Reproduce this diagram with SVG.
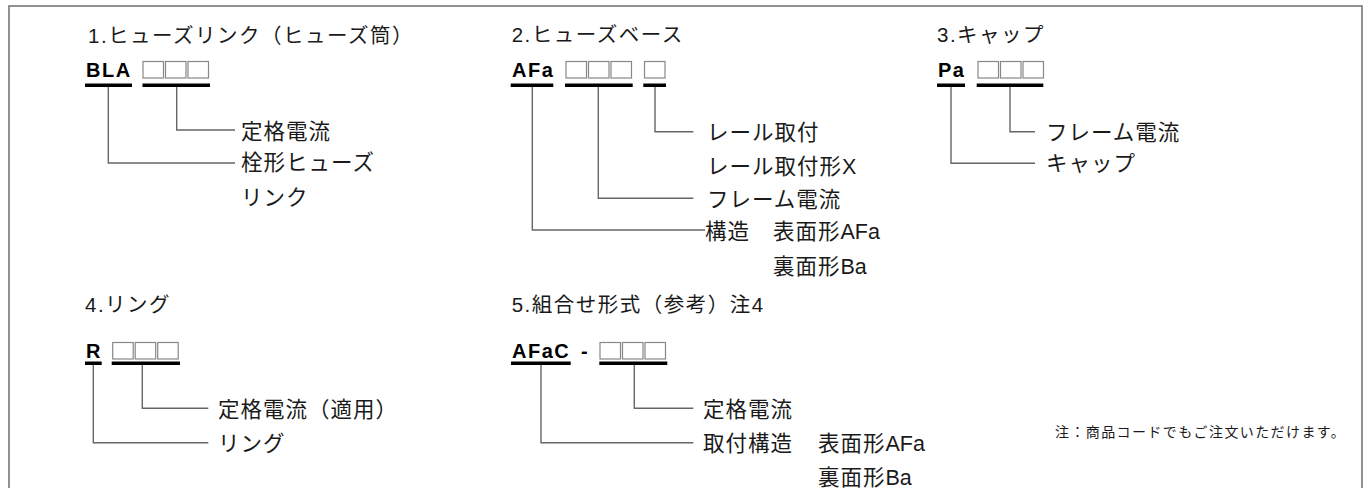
<svg xmlns="http://www.w3.org/2000/svg" width="1363" height="488" viewBox="0 0 1363 488">
<style>
.t{font-family:"Liberation Sans","Noto Sans CJK JP",sans-serif;font-size:20.5px;letter-spacing:1.5px;fill:#1a1a1a}
.l{font-family:"Liberation Sans","Noto Sans CJK JP",sans-serif;font-size:21.5px;letter-spacing:1px;fill:#1a1a1a}
.a{letter-spacing:0}
.c{font-family:"Liberation Sans",Arial,sans-serif;font-size:20px;font-weight:bold;letter-spacing:1.5px;fill:#000}
.n{font-family:"Liberation Sans","Noto Sans CJK JP",sans-serif;font-size:14px;letter-spacing:1.4px;fill:#1a1a1a}
.u{fill:#000}
.b{fill:none;stroke:#888;stroke-width:1.2}
.k{fill:none;stroke:#666;stroke-width:1.4}
</style>
<rect x="9" y="6" width="1353" height="500" fill="none" stroke="#777" stroke-width="1.6"/>

<g id="section1">
<text class="t" x="88" y="42.5">1.ヒューズリンク（ヒューズ筒）</text>
<g id="s1-code-BLA"><text class="c" x="86" y="77">BLA</text><rect class="u" x="85" y="83.5" width="47" height="3.5"/></g>
<g id="s1-code-boxes"><rect class="b" x="143" y="61.5" width="20.5" height="16.5"/><rect class="b" x="165.5" y="61.5" width="20.5" height="16.5"/><rect class="b" x="188" y="61.5" width="20.5" height="16.5"/><rect class="u" x="142.5" y="83.5" width="67.5" height="3.5"/></g>
<g id="s1-label-rating"><text class="l" x="241" y="138.5">定格電流</text></g>
<g id="s1-label-type"><text class="l" x="241" y="170">栓形ヒューズ</text><text class="l" x="241" y="205">リンク</text></g>
</g>

<g id="section2">
<text class="t" x="511.7" y="42">2.ヒューズベース</text>
<g id="s2-code-AFa"><text class="c" x="512" y="77">AFa</text><rect class="u" x="510.7" y="83.5" width="42.6" height="3.5"/></g>
<g id="s2-code-boxes"><rect class="b" x="566" y="61.5" width="20.5" height="16.5"/><rect class="b" x="588.5" y="61.5" width="20.5" height="16.5"/><rect class="b" x="611" y="61.5" width="20.5" height="16.5"/><rect class="u" x="565" y="83.5" width="67.7" height="3.5"/></g>
<g id="s2-code-box"><rect class="b" x="644.5" y="61.5" width="20.5" height="16.5"/><rect class="u" x="643.3" y="83.5" width="22.7" height="3.5"/></g>
<g id="s2-label-rail"><text class="l" x="707" y="139.5">レール取付</text><text class="l" x="707" y="174">レール取付形<tspan class="a">X</tspan></text></g>
<g id="s2-label-frame"><text class="l" x="707" y="206.5">フレーム電流</text></g>
<g id="s2-label-struct"><text class="l" x="705" y="238.5">構造</text><text class="l" x="773" y="238.5">表面形<tspan class="a">AFa</tspan></text><text class="l" x="773" y="274">裏面形<tspan class="a">Ba</tspan></text></g>
</g>

<g id="section3">
<text class="t" x="937" y="42">3.キャップ</text>
<g id="s3-code-Pa"><text class="c" x="938" y="77">Pa</text><rect class="u" x="937" y="83.5" width="28" height="3.5"/></g>
<g id="s3-code-boxes"><rect class="b" x="978" y="61.5" width="20.5" height="16.5"/><rect class="b" x="1000.5" y="61.5" width="20.5" height="16.5"/><rect class="b" x="1023" y="61.5" width="20.5" height="16.5"/><rect class="u" x="976.7" y="83.5" width="66.6" height="3.5"/></g>
<g id="s3-label-frame"><text class="l" x="1046" y="139.5">フレーム電流</text></g>
<g id="s3-label-cap"><text class="l" x="1046" y="171">キャップ</text></g>
</g>

<g id="section4">
<text class="t" x="85" y="311.5">4.リング</text>
<g id="s4-code-R"><text class="c" x="86" y="358">R</text><rect class="u" x="85" y="361.5" width="16.7" height="3.5"/></g>
<g id="s4-code-boxes"><rect class="b" x="112.7" y="342.5" width="20.5" height="16.5"/><rect class="b" x="135.2" y="342.5" width="20.5" height="16.5"/><rect class="b" x="157.7" y="342.5" width="20.5" height="16.5"/><rect class="u" x="111.7" y="361.5" width="68.3" height="3.5"/></g>
<g id="s4-label-rating"><text class="l" x="218" y="416.5">定格電流（適用）</text></g>
<g id="s4-label-ring"><text class="l" x="218" y="450.5">リング</text></g>
</g>

<g id="section5">
<text class="t" x="511.7" y="312">5.組合せ形式（参考）注4</text>
<g id="s5-code-AFaC"><text class="c" x="512" y="358">AFaC</text><rect class="u" x="511" y="361.5" width="59.7" height="3.5"/></g>
<text class="c" x="581" y="358">-</text>
<g id="s5-code-boxes"><rect class="b" x="600" y="342.5" width="20.5" height="16.5"/><rect class="b" x="622.5" y="342.5" width="20.5" height="16.5"/><rect class="b" x="645" y="342.5" width="20.5" height="16.5"/><rect class="u" x="599.3" y="361.5" width="68" height="3.5"/></g>
<g id="s5-label-rating"><text class="l" x="703" y="416.5">定格電流</text></g>
<g id="s5-label-struct"><text class="l" x="703" y="450.5">取付構造</text><text class="l" x="818" y="450.5">表面形<tspan class="a">AFa</tspan></text><text class="l" x="818" y="484.5">裏面形<tspan class="a">Ba</tspan></text></g>
</g>

<g id="note"><text class="n" x="1055" y="437">注：商品コードでもご注文いただけます。</text></g>

<g id="connectors">
<path class="k" d="M176.7,87 V130 H235"/>
<path class="k" d="M108.3,87 V163 H235"/>
<path class="k" d="M655,87 V131.7 H693.3"/>
<path class="k" d="M598.3,87 V198.3 H693.3"/>
<path class="k" d="M532.3,87 V230 H705"/>
<path class="k" d="M1010,87 V131.7 H1035"/>
<path class="k" d="M951,87 V163.3 H1035"/>
<path class="k" d="M142.3,365 V408.3 H208.3"/>
<path class="k" d="M93.3,365 V442.7 H208.3"/>
<path class="k" d="M634.3,365 V408.3 H693.3"/>
<path class="k" d="M541,365 V442.7 H693.3"/>
</g>
</svg>
